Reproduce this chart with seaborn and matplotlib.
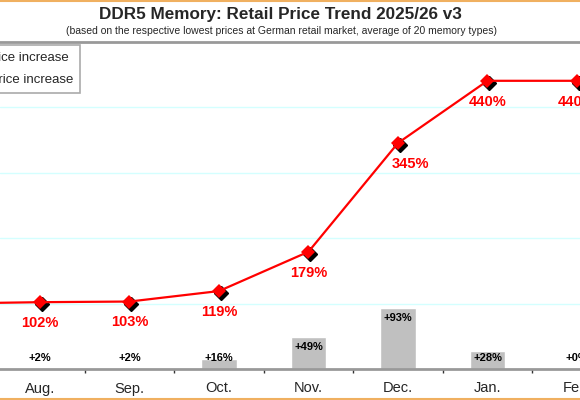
import matplotlib
matplotlib.use("Agg")
import matplotlib.pyplot as plt
import matplotlib.transforms as mtransforms
from matplotlib.lines import Line2D
from matplotlib.patches import Patch
import seaborn as sns
import pandas as pd

months = ["Jul.", "Aug.", "Sep.", "Oct.", "Nov.", "Dec.", "Jan.", "Feb."]
total_pct = [100, 102, 103, 119, 179, 345, 440, 440]
monthly_pct = [0, 2, 2, 16, 49, 93, 28, 0]

df = pd.DataFrame({"month": months, "total": [v / 100 for v in total_pct],
                   "monthly": [v / 100 for v in monthly_pct]})
df["pos"] = range(len(months))

sns.set_theme(style="white")
plt.rcParams["font.family"] = ["Liberation Sans", "DejaVu Sans"]

W, H = 580, 400
fig = plt.figure(figsize=(W / 100, H / 100), dpi=100)
ax_bottom = (H - 369) / H
ax_top = (H - 41.5) / H
ax = fig.add_axes([0, ax_bottom, 1, ax_top - ax_bottom])

# bars (monthly increase)
ax.bar(df["pos"], df["monthly"], width=0.4, color="#c0c0c0", zorder=2)
for p, v, lab in zip(df["pos"], df["monthly"], monthly_pct):
    ax.text(p, max(v - 0.15, 0.17), f"+{lab}%", ha="center", va="center",
            fontsize=8, fontweight="bold", color="black", zorder=5)

# shadow markers
shadow = mtransforms.offset_copy(ax.transData, fig=fig, x=2, y=-2, units="dots")
ax.plot(df["pos"], df["total"], linestyle="none", marker="D", markersize=7.5,
        color="black", transform=shadow, zorder=3)
sns.lineplot(data=df, x="pos", y="total", color="red", linewidth=1.6,
             marker="D", markersize=7.5, markeredgewidth=0, ax=ax, zorder=4,
             legend=False)
for i, (p, v, lab) in enumerate(zip(df["pos"], df["total"], total_pct)):
    dx = 9 if months[i] == "Dec." else 0
    ax.annotate(f"{lab}%", (p, v), xytext=(dx, -15), textcoords="offset points",
                ha="center", va="center", fontsize=10.5, fontweight="bold",
                color="red", zorder=5)

ax.set_yticks([1, 2, 3, 4])
ax.yaxis.grid(True, color="#d4ffff", linewidth=1)
ax.set_yticklabels([])
ax.tick_params(axis="y", length=0)
ax.set_xticks(df["pos"])
ax.set_xticklabels(months, fontsize=10.5)
ax.set_xticks([p + 0.5 for p in df["pos"]], minor=True)
ax.tick_params(axis="x", which="major", length=0, pad=9)
ax.tick_params(axis="x", which="minor", length=3, width=1, color="#333333",
               direction="out", bottom=True)
ax.set_xlim(0.553, 7.034)
ax.set_ylim(0, 5)
ax.set_xlabel("")
ax.set_ylabel("")
for s in ["left", "right"]:
    ax.spines[s].set_visible(False)
ax.spines["bottom"].set_color("#999999")
ax.spines["bottom"].set_linewidth(2)
ax.spines["top"].set_color("#999999")
ax.spines["top"].set_linewidth(2)

handles = [Line2D([0], [0], color="red", marker="D", markersize=6, linewidth=1.6),
           Patch(facecolor="#c0c0c0")]
leg = fig.legend(handles, ["Overall price increase", "Monthly price increase"],
                 loc="upper right", bbox_to_anchor=(80 / W, 1 - 45 / H),
                 bbox_transform=fig.transFigure, fontsize=9.5, frameon=True,
                 fancybox=False, framealpha=1, edgecolor="#aaaaaa",
                 borderaxespad=0, labelspacing=0.75, borderpad=0.5)
leg.get_frame().set_linewidth(1.2)

fig.text(280.5 / W, 1 - 14 / H, "DDR5 Memory: Retail Price Trend 2025/26 v3",
         ha="center", va="center", fontsize=12.3, fontweight="bold")
fig.text(282 / W, 1 - 31 / H,
         "(based on the respective lowest prices at German retail market, average of 20 memory types)",
         ha="center", va="center", fontsize=7.5)

fig.add_artist(Line2D([0, 1], [1 - 0.5 / H, 1 - 0.5 / H], transform=fig.transFigure,
                      color="#f0b060", linewidth=1.5))
fig.add_artist(Line2D([0, 1], [1.5 / H, 1.5 / H], transform=fig.transFigure,
                      color="#f0b060", linewidth=1.5))

fig.savefig("out.png", dpi=100)
